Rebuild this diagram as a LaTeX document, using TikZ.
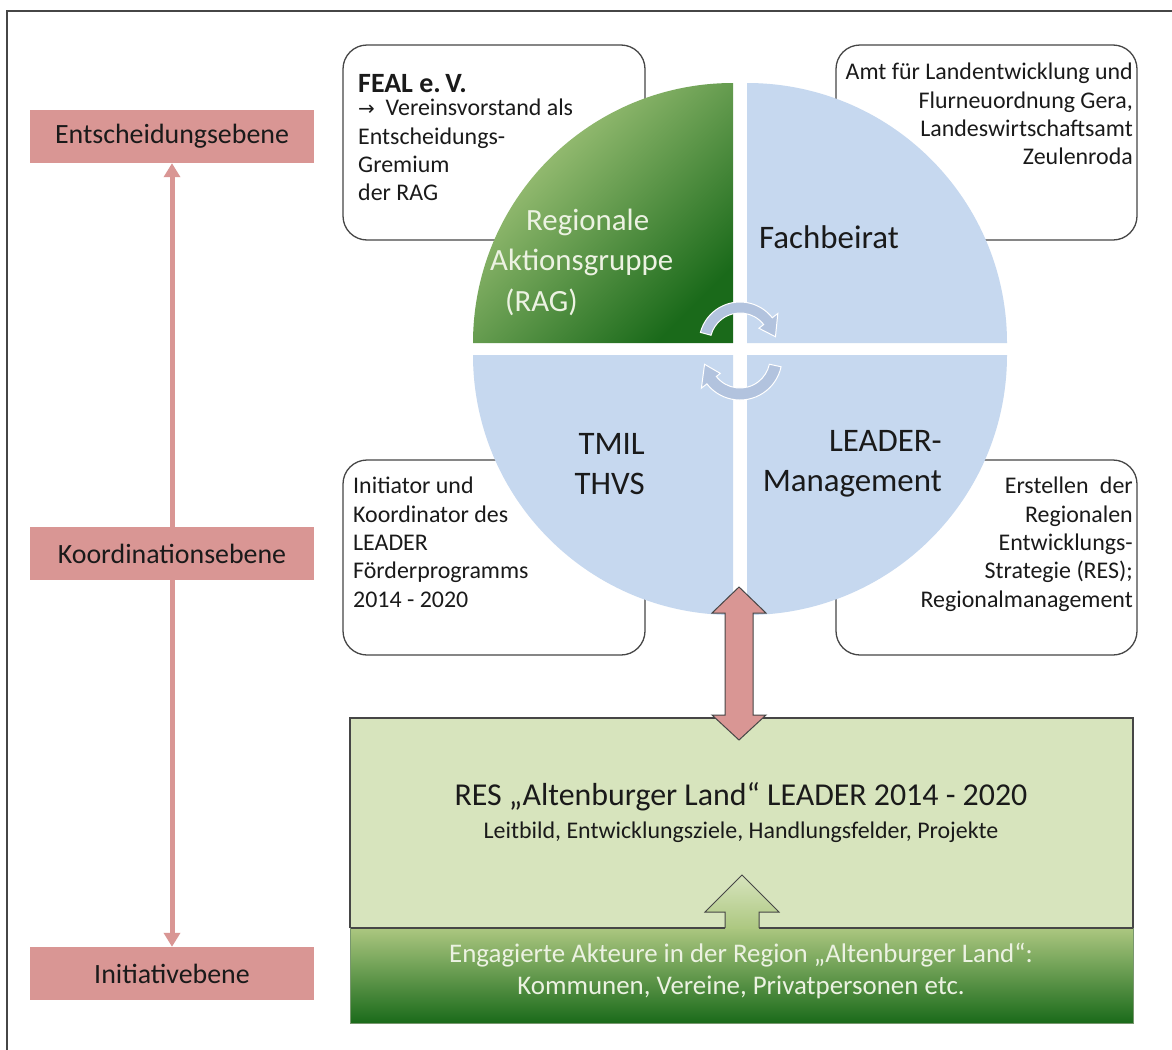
\documentclass[tikz,border=0pt]{standalone}
\usepackage{fontspec}
\setmainfont{Carlito}
\usetikzlibrary{arrows.meta}

\definecolor{rose}{RGB}{217,150,148}
\definecolor{paleolive}{RGB}{215,228,189}
\definecolor{skyquad}{RGB}{198,216,239}
\definecolor{turnblue}{RGB}{178,195,222}
\definecolor{leafhi}{RGB}{176,205,132}
\definecolor{leaflo}{RGB}{26,106,26}
\definecolor{meadowtop}{RGB}{172,199,128}
\definecolor{inkdark}{RGB}{26,26,26}
\definecolor{edgegray}{RGB}{70,70,70}
\definecolor{paletext}{RGB}{236,242,226}

\begin{document}
\begin{tikzpicture}[x=1bp,y=-1bp,
  levelbox/.style={fill=rose, minimum width=283bp, minimum height=53bp,
    inner sep=0pt, font=\fontsize{28}{32}\selectfont, text=inkdark},
  infobox/.style={draw=edgegray, line width=1.3bp, rounded corners=24bp, fill=white},
  body/.style={font=\fontsize{24}{28.5}\selectfont, text=inkdark, inner sep=0pt},
  quadtext/.style={font=\fontsize{33}{40}\selectfont, inner sep=0pt},
  ragtext/.style={font=\fontsize{31}{40}\selectfont, inner sep=0pt, text=paletext, anchor=west},
  turn/.style={fill=turnblue, draw=white, line width=1bp},
  blockarrow/.style={fill=rose, draw=edgegray, line width=1bp},
  levelline/.style={draw=rose, line width=5bp,
    {Triangle[width=16bp,length=14bp]}-{Triangle[width=16bp,length=14bp]}},
]
\useasboundingbox (0,0) rectangle (1172,1050);
\fill[white] (0,0) rectangle (1172,1050);

% page frame
\draw[edgegray, line width=2bp] (7,1050) -- (7,11) -- (1172,11);

% level labels and the axis between them
\node[levelbox] (top) at (172,136.5) {Entscheidungsebene};
\node[levelbox] (low) at (172,973.5) {Initiativebene};
\draw[levelline] (top.south) -- (low.north);
\node[levelbox] (mid) at (172,553.5) {Koordinationsebene};

% explanatory boxes behind the circle
\draw[infobox] (343,45) rectangle (645,240);
\draw[infobox] (836,45) rectangle (1137,240);
\draw[infobox] (343,460) rectangle (645,655);
\draw[infobox] (836,460) rectangle (1137,655);

\node[anchor=west, inner sep=0pt, text=inkdark, font=\fontsize{28}{32}\selectfont\bfseries]
  (feal) at (358,84) {FEAL e.\,V.};
\node[body, anchor=north west, align=left] (fealtxt) at (358,99)
  {{\fontspec{DejaVu Sans}\fontsize{20}{24}\selectfont→}\ \ Vereinsvorstand als\\Entscheidungs-\\Gremium\\der RAG};
\node[body, anchor=north east, align=right] (amt) at (1133,63)
  {Amt für Landentwicklung und\\Flurneuordnung Gera,\\Landeswirtschaftsamt\\Zeulenroda};
\node[body, anchor=north west, align=left] (tmiltxt) at (353,477)
  {Initiator und\\Koordinator des\\LEADER\\Förderprogramms\\2014 - 2020};
\node[body, anchor=north east, align=right] (restxt) at (1133,477)
  {Erstellen\hspace{6bp} der\\Regionalen \\Entwicklungs-\\Strategie (RES); \\Regionalmanagement};

% the four quadrants
\shade[top color=leafhi, bottom color=leaflo, shading angle=45]
  (733,343) -- (473,343) arc[start angle=180, end angle=270, radius=260] -- cycle;
\fill[skyquad] (747,343) -- (747,83) arc[start angle=270, end angle=360, radius=260] -- cycle;
\fill[skyquad] (747,355) -- (1007,355) arc[start angle=0, end angle=90, radius=260] -- cycle;
\fill[skyquad] (733,355) -- (733,615) arc[start angle=90, end angle=180, radius=260] -- cycle;

\node[ragtext] (rag1) at (526,222) {Regionale};
\node[ragtext] (rag2) at (490,262) {Aktionsgruppe};
\node[ragtext] (rag3) at (505,302) {(RAG)};
\node[quadtext, text=inkdark] (fach) at (829,237) {Fachbeirat};
\node[quadtext, text=inkdark, align=right, anchor=east] (tmil) at (645,464) {TMIL\\THVS};
\node[quadtext, text=inkdark, align=right, anchor=east] (leader) at (942,464) {LEADER-\\Management};

% circular exchange arrows in the middle
\path[turn]
  ([shift={(195:41)}]740,343) arc[start angle=195, end angle=322, radius=41]
  -- ([shift={(322:48)}]740,343) -- ([shift={(350:36)}]740,343)
  -- ([shift={(322:24)}]740,343) -- ([shift={(322:30)}]740,343)
  arc[start angle=322, end angle=195, radius=30] -- cycle;
\path[turn]
  ([shift={(12:42)}]740,358) arc[start angle=12, end angle=142, radius=42]
  -- ([shift={(142:49)}]740,358) -- ([shift={(170:36)}]740,358)
  -- ([shift={(142:25)}]740,358) -- ([shift={(142:30)}]740,358)
  arc[start angle=142, end angle=12, radius=30] -- cycle;

% strategy block
\fill[paleolive] (350,718) rectangle (1133,928);
\shade[top color=meadowtop, bottom color=leaflo] (350,928) rectangle (1133,1023);
\draw[edgegray, line width=1.3bp] (350,928) -- (350,718) -- (1133,718) -- (1133,928);
\draw[edgegray, line width=1.3bp] (350,928) -- (725,928) (759,928) -- (1133,928);
\draw[color={rgb,255:red,120;green,150;blue,110}, line width=0.8bp]
  (350,928) -- (350,1023) -- (1133,1023) -- (1133,928);

\node[font=\fontsize{32}{36}\selectfont, text=inkdark, inner sep=0pt] (res) at (741,797)
  {RES „Altenburger Land“ LEADER 2014 - 2020};
\node[body] (ziele) at (741,832) {Leitbild, Entwicklungsziele, Handlungsfelder, Projekte};

% upward arrow from the actors into the strategy
\shade[top color=paleolive, bottom color=meadowtop]
  (725,929) -- (725,912) -- (705,912) -- (742,875) -- (779,912) -- (759,912) -- (759,929) -- cycle;
\draw[edgegray, line width=1bp]
  (725,928) -- (725,912) -- (705,912) -- (742,875) -- (779,912) -- (759,912) -- (759,928);

\node[font=\fontsize{27}{33}\selectfont, text=paletext, align=center, inner sep=0pt] (akteure) at (741,971)
  {Engagierte Akteure in der Region „Altenburger Land“:\\Kommunen, Vereine, Privatpersonen etc.};

% link between management and strategy
\coordinate (linktop) at (739,587);
\coordinate (linkbot) at (739,740);
\path[blockarrow] (linktop) -- (766,613) -- (753,613) -- (753,715) -- (766,715) -- (linkbot)
  -- (712,715) -- (725,715) -- (725,613) -- (712,613) -- cycle;
\end{tikzpicture}
\end{document}
